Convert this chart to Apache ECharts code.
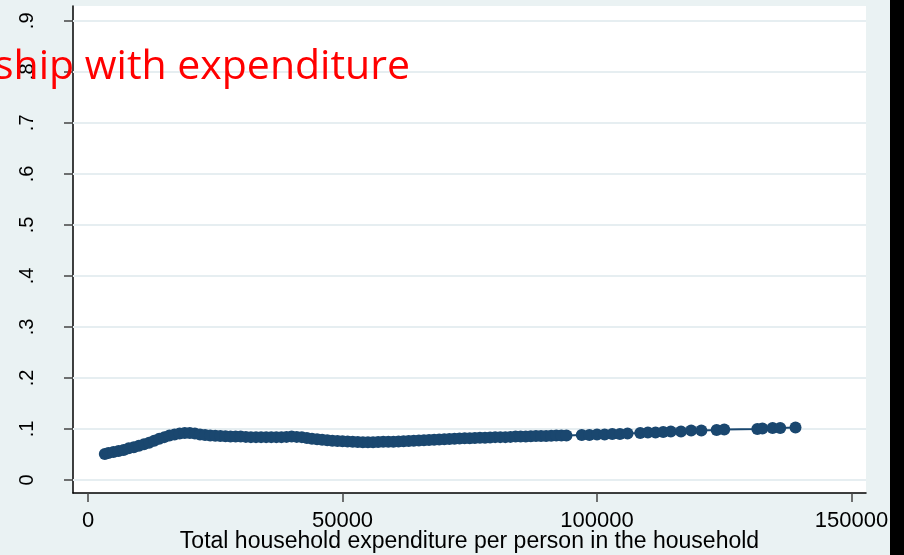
<!DOCTYPE html>
<html>
<head>
<meta charset="utf-8">
<title>Relationship with expenditure</title>
<script src="https://cdn.jsdelivr.net/npm/echarts@6/dist/echarts.min.js"></script>
<style>
  html, body { margin: 0; padding: 0; background: #eaf2f3; }
  #chart { width: 904px; height: 555px; }
</style>
</head>
<body>
<div id="chart"></div>
<script>
// Total household expenditure per person (x) against the fitted share (y)
const expenditure = [
  3300, 4000, 5000, 6000, 7000, 8000, 9000, 10000, 11000, 12000,
  13000, 14000, 15000, 16000, 17000, 18000, 19000, 20000, 21000, 22000,
  23000, 24000, 25000, 26000, 27000, 28000, 29000, 30000, 31000, 32000,
  33000, 34000, 35000, 36000, 37000, 38000, 39000, 40000, 41000, 42000,
  43000, 44000, 45000, 46000, 47000, 48000, 49000, 50000, 51000, 52000,
  53000, 54000, 55000, 56000, 57000, 58000, 59000, 60000, 61000, 62000,
  63000, 64000, 65000, 66000, 67000, 68000, 69000, 70000, 71000, 72000,
  73000, 74000, 75000, 76000, 77000, 78000, 79000, 80000, 81000, 82000,
  83000, 84000, 85000, 86000, 87000, 88000, 89000, 90000, 91000, 92000,
  93000, 94000,
  97000, 98500, 100000, 101500, 103000, 104500, 106000, 108500, 110000,
  111500, 113000, 114500, 116500, 118500, 120500, 123500, 125000,
  131500, 132500, 134500, 136000, 139000
];
const share = [
  0.051, 0.053, 0.055, 0.057, 0.059, 0.062, 0.064, 0.067, 0.070, 0.073,
  0.077, 0.081, 0.084, 0.087, 0.089, 0.091, 0.092, 0.092, 0.091, 0.089,
  0.088, 0.087, 0.0865, 0.086, 0.0855, 0.085, 0.085, 0.085, 0.0845, 0.084,
  0.084, 0.084, 0.084, 0.084, 0.084, 0.084, 0.0845, 0.085, 0.0845, 0.084,
  0.0825, 0.081, 0.080, 0.079, 0.078, 0.077, 0.0765, 0.076, 0.0755, 0.075,
  0.0745, 0.074, 0.074, 0.074, 0.0745, 0.075, 0.075, 0.075, 0.0755, 0.076,
  0.0765, 0.077, 0.0775, 0.078, 0.0785, 0.079, 0.0795, 0.080, 0.0805, 0.081,
  0.0815, 0.082, 0.082, 0.0825, 0.083, 0.083, 0.0835, 0.084, 0.084, 0.084,
  0.0845, 0.085, 0.085, 0.085, 0.0855, 0.086, 0.086, 0.086, 0.0865, 0.087,
  0.087, 0.087,
  0.088, 0.088, 0.089, 0.089, 0.090, 0.090, 0.091, 0.092, 0.093,
  0.093, 0.094, 0.095, 0.095, 0.097, 0.097, 0.098, 0.099,
  0.100, 0.101, 0.102, 0.102, 0.103
];
const xTicks = [0, 50000, 100000, 150000];
const yTicks = [0, 0.1, 0.2, 0.3, 0.4, 0.5, 0.6, 0.7, 0.8, 0.9];

const titleText = 'ship with expenditure';
const xTitle = 'Total household expenditure per person in the household';

const points = expenditure.map((x, i) => [x, share[i]]);

// Stata-style decimal labels: ".1", ".2", ... and "0"
const fmtShare = v => {
  if (Math.abs(v) < 1e-9) return '0';
  return String(Math.round(v * 10) / 10).replace(/^0/, '');
};

const chart = echarts.init(document.getElementById('chart'), null, { renderer: 'canvas' });

chart.setOption({
  backgroundColor: '#eaf2f3',
  animation: false,
  grid: {
    left: 73, right: 38, top: 6, bottom: 62,
    outerBoundsMode: 'none',
    containLabel: false,
    show: true, backgroundColor: '#ffffff', borderWidth: 0
  },
  xAxis: {
    type: 'value',
    min: -2950, max: 152850,
    name: xTitle,
    nameLocation: 'middle',
    nameGap: 37,
    nameMoveOverlap: false,
    nameTextStyle: { fontFamily: 'Liberation Sans', fontSize: 23, color: '#000' },
    axisLine: { show: true, onZero: false, lineStyle: { color: '#000', width: 1.5 } },
    axisTick: { show: true, length: 9, customValues: xTicks, lineStyle: { color: '#444', width: 1.5 } },
    axisLabel: {
      customValues: xTicks, margin: 17,
      fontFamily: 'Liberation Sans', fontSize: 22, color: '#000',
      formatter: v => String(v)
    },
    splitLine: { show: false }
  },
  yAxis: {
    type: 'value',
    min: -0.0255, max: 0.929,
    axisLine: { show: true, onZero: false, lineStyle: { color: '#000', width: 1.5 } },
    axisTick: { show: true, length: 9, customValues: yTicks, lineStyle: { color: '#444', width: 1.5 } },
    axisLabel: {
      customValues: yTicks, rotate: 90, margin: 36,
      fontFamily: 'Liberation Sans', fontSize: 20, color: '#000',
      formatter: fmtShare
    },
    splitLine: { show: false }
  },
  series: [{
    type: 'line',
    data: points,
    symbol: 'circle',
    symbolSize: 12,
    showAllSymbol: true,
    itemStyle: { color: '#1a476f' },
    lineStyle: { color: '#1a476f', width: 2 },
    markLine: {
      silent: true,
      symbol: 'none',
      label: { show: false },
      z: 1,
      lineStyle: { color: '#e6eef1', width: 2, type: 'solid' },
      data: yTicks.map(v => ({ yAxis: v }))
    },
    z: 3
  }],
  graphic: [
    {
      type: 'text',
      left: -6, top: 47,
      style: {
        text: titleText,
        font: '41px "Open Sans"',
        fill: '#ff0000'
      },
      z: 100
    },
    {
      type: 'rect',
      shape: { x: 890, y: 0, width: 14, height: 555 },
      style: { fill: '#000' },
      z: 100
    }
  ]
});
</script>
</body>
</html>
